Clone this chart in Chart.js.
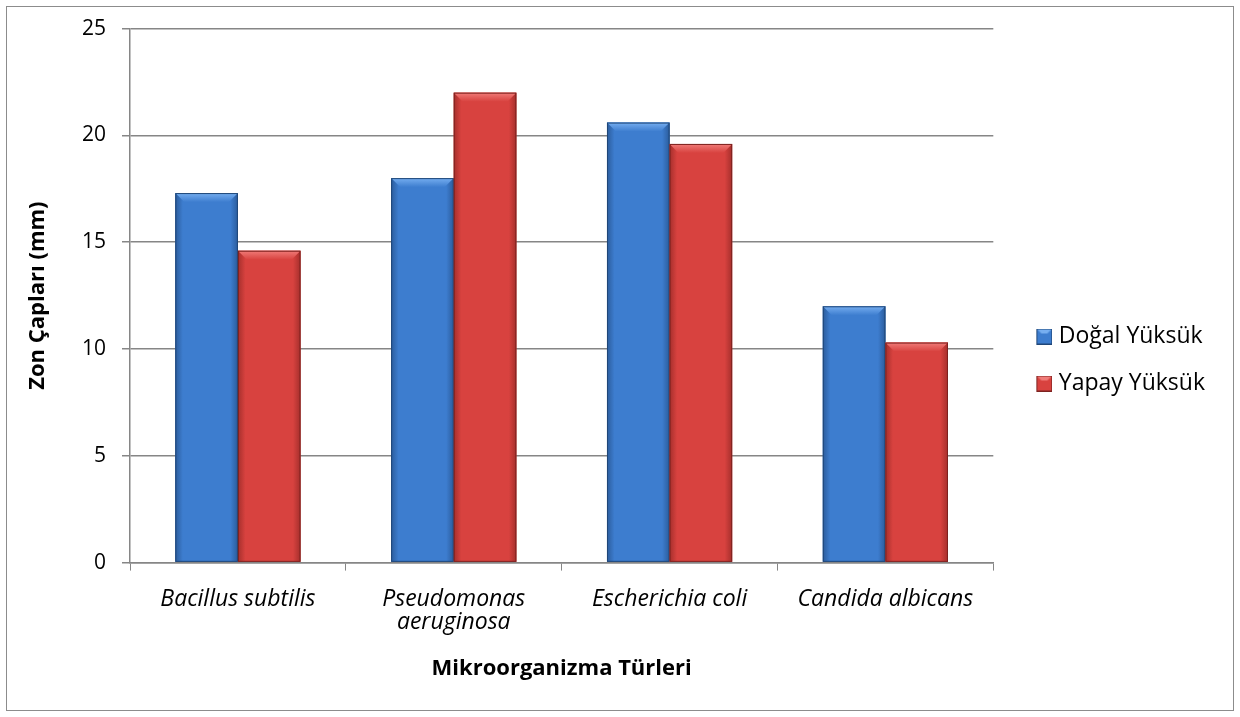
<!DOCTYPE html>
<html>
<head>
<meta charset="utf-8">
<script src="https://cdn.jsdelivr.net/npm/chart.js@4/dist/chart.umd.min.js"></script>
<style>
  html, body { margin: 0; padding: 0; background: #fff; }
  #wrap { position: absolute; left: 0; top: 0; width: 1240px; height: 717px; }
</style>
</head>
<body>
<div id="wrap"><canvas id="chart" width="1240" height="717"></canvas></div>
<script>
const categories = ['Bacillus subtilis', ['Pseudomonas', 'aeruginosa'], 'Escherichia coli', 'Candida albicans'];
const dogalYuksuk = [17.3, 18.0, 20.6, 12.0];
const yapayYuksuk = [14.6, 22.0, 19.6, 10.3];
const seriesNames = ['Doğal Yüksük', 'Yapay Yüksük'];
const yTicks = [0, 5, 10, 15, 20, 25];

const FONT = '"Open Sans", sans-serif';
const palette = [
  { mid: '#3d7dcf', edge: '#2b5c9c', top: '#76aef0', dark: '#1f4677' },
  { mid: '#d8423f', edge: '#a52f2c', top: '#f07c79', dark: '#7d2220' }
];

// outer frame
const framePlugin = {
  id: 'frame',
  beforeDraw(chart) {
    const c = chart.ctx;
    c.save();
    c.fillStyle = '#fff';
    c.fillRect(0, 0, chart.width, chart.height);
    c.strokeStyle = '#8c8c8c';
    c.lineWidth = 1;
    c.strokeRect(6.5, 6.5, chart.width - 13, chart.height - 13);
    c.restore();
  },
  // push the legend a bit away from the plot
  afterLayout(chart) {
    const lg = chart.legend;
    lg.left += 14; lg.right += 14;
    lg.top += 3; lg.bottom += 3;
  }
};

// bevelled look for bars, like the office 3d style
const bevelPlugin = {
  id: 'bevel',
  afterDatasetsDraw(chart) {
    const c = chart.ctx;
    chart.data.datasets.forEach((ds, di) => {
      const p = palette[di];
      chart.getDatasetMeta(di).data.forEach(bar => {
        const { x, y, base, width } = bar.getProps(['x', 'y', 'base', 'width'], true);
        const l = x - width / 2, r = x + width / 2, h = base - y;
        const b = Math.min(9, h / 2);
        c.save();
        const g = c.createLinearGradient(l, 0, r, 0);
        g.addColorStop(0, p.edge);
        g.addColorStop(0.12, p.mid);
        g.addColorStop(0.88, p.mid);
        g.addColorStop(1, p.edge);
        c.fillStyle = g;
        c.fillRect(l, y, width, h);
        // top bevel
        const tg = c.createLinearGradient(0, y, 0, y + b);
        tg.addColorStop(0, p.top);
        tg.addColorStop(1, p.mid);
        c.fillStyle = tg;
        c.beginPath();
        c.moveTo(l, y); c.lineTo(r, y); c.lineTo(r - b, y + b); c.lineTo(l + b, y + b);
        c.closePath(); c.fill();
        c.strokeStyle = p.dark;
        c.lineWidth = 1;
        c.strokeRect(l + 0.5, y + 0.5, width - 1, h - 1);
        c.restore();
      });
    });
  }
};

// legend marker: 26px wide image, box sits in the right 16px
function legendBox(i) {
  const cv = document.createElement('canvas');
  cv.width = 26; cv.height = 16;
  const c = cv.getContext('2d');
  const p = palette[i];
  c.translate(10, 0);
  c.fillStyle = p.mid; c.fillRect(0, 0, 16, 16);
  c.fillStyle = p.top;
  c.beginPath(); c.moveTo(0, 0); c.lineTo(16, 0); c.lineTo(11, 5); c.lineTo(5, 5); c.closePath(); c.fill();
  c.strokeStyle = p.dark; c.strokeRect(0.5, 0.5, 15, 15);
  return cv;
}

new Chart(document.getElementById('chart'), {
  type: 'bar',
  data: {
    labels: categories,
    datasets: [
      { label: seriesNames[0], data: dogalYuksuk, backgroundColor: palette[0].mid, borderWidth: 0 },
      { label: seriesNames[1], data: yapayYuksuk, backgroundColor: palette[1].mid, borderWidth: 0 }
    ]
  },
  options: {
    responsive: false,
    animation: false,
    categoryPercentage: 0.58,
    barPercentage: 1,
    layout: { padding: { left: 20, top: 28, right: 39, bottom: 31 } },
    plugins: {
      tooltip: { enabled: false },
      legend: {
        position: 'right',
        labels: {
          color: '#000',
          font: { family: FONT, size: 23 },
          padding: 24,
          usePointStyle: true,
          pointStyleWidth: 16,
          generateLabels(chart) {
            return chart.data.datasets.map((ds, i) => ({
              text: ds.label, pointStyle: legendBox(i), datasetIndex: i, fontColor: '#000'
            }));
          }
        }
      }
    },
    scales: {
      x: {
        grid: { display: true, drawOnChartArea: false, drawTicks: true, tickLength: 8, color: '#868686', offset: true },
        border: { display: true, color: '#868686', width: 1.5 },
        ticks: { color: '#000', font: { family: FONT, size: 23, style: 'italic', lineHeight: 1 }, padding: 17, maxRotation: 0 },
        title: { display: true, text: 'Mikroorganizma Türleri', color: '#000', font: { family: FONT, size: 22, weight: 'bold' }, padding: { top: 5 } }
      },
      y: {
        min: 0, max: 25,
        afterBuildTicks(axis) { axis.ticks = yTicks.map(v => ({ value: v })); },
        afterFit(axis) { axis.width = 110; },
        grid: { color: '#868686', lineWidth: 1.5, tickLength: 8 },
        border: { display: true, color: '#868686', width: 1.5 },
        ticks: { color: '#000', font: { family: FONT, size: 21 }, padding: 16 },
        title: { display: true, text: 'Zon Çapları (mm)', color: '#000', font: { family: FONT, size: 22, weight: 'bold' }, padding: { top: 5, bottom: 10 } }
      }
    }
  },
  plugins: [framePlugin, bevelPlugin]
});
</script>
</body>
</html>
